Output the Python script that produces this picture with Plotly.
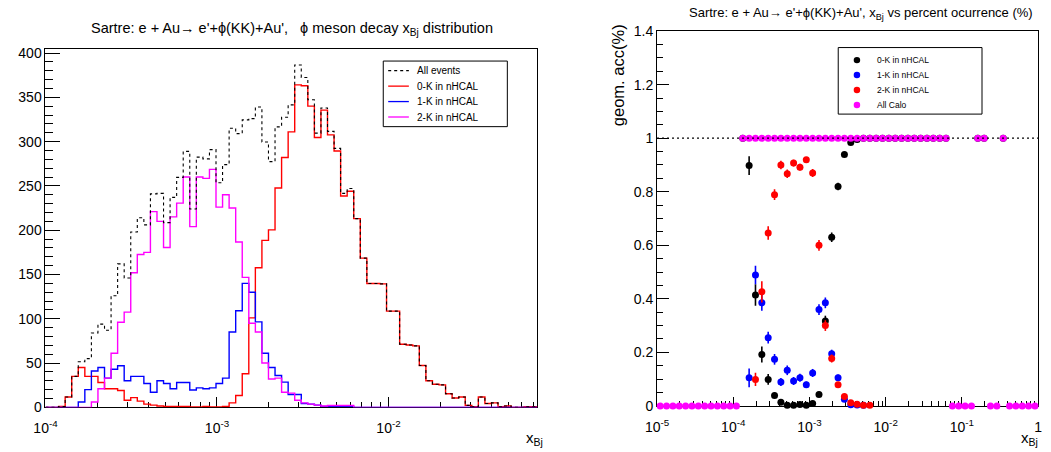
import numpy as np
import plotly.graph_objects as go

W, H = 1051, 452
FONT = "Liberation Sans, Arial, sans-serif"

# ---------------- Left panel: x_Bj distributions (75 log bins) ----------------
XMIN_L, XMAX_L, NB_L = 1e-4, 0.0738, 75

all_events = [0, 0, 1, 11.6, 35, 51.5, 55, 84, 94, 87,
              126, 162, 146, 198, 214, 206, 241, 241.5, 208.5, 237,
              259.6, 289, 224, 282.5, 280.5, 291, 253.5, 274, 315, 309,
              324.5, 326, 339, 299.5, 277.4, 316.6, 327.5, 341.5, 386.5, 372.4,
              347.2, 309.6, 338, 311.6, 292.4, 241.6, 247, 213, 168.5, 139.8,
              139.8, 139.4, 108.6, 108.6, 71.2, 70.4, 69.4, 47.2, 30, 26,
              25.4, 15.3, 10.5, 11.6, 2.2, 0.7, 11.6, 4.4, 5, 0.7,
              1.5, 0, 0, 0.7, 0.7]
k0_nhcal = [0, 0, 1, 11.6, 35, 45, 35, 35, 28, 21,
            21, 19, 8, 11, 7, 3.6, 2.5, 1.5, 1, 1,
            1, 1, 0.5, 0.5, 1, 0.5, 0.5, 1, 5, 13.4,
            38, 101, 157.6, 188.5, 200.4, 247.6, 282, 311, 364, 363,
            340, 304.6, 335.5, 307.6, 289.4, 238.6, 244, 213, 168.5, 139.8,
            139.8, 139.4, 108.6, 108.6, 71.2, 70.4, 69.4, 47.2, 30, 26,
            25.4, 15.3, 10.5, 11.6, 2.2, 0.7, 11.6, 4.4, 5, 0.7,
            1.5, 0, 0, 0.7, 0.7]
k1_nhcal = [0, 0, 0, 0, 0, 6, 20, 41, 45, 33,
            43, 47, 30, 35, 35, 27, 17, 30, 27, 21,
            28, 28, 19.6, 22, 21, 22, 27, 33, 85, 109,
            140, 130, 96.5, 61, 45, 36, 28.5, 14.5, 14.5, 4.4,
            3.6, 2.5, 1, 1, 1, 1, 1, 0, 0, 0,
            0, 0, 0, 0, 0, 0, 0, 0, 0, 0,
            0, 0, 0, 0, 0, 0, 0, 0, 0, 0,
            0, 0, 0, 0, 0]
k2_nhcal = [0, 0, 0, 0, 0, 0, 0, 6, 21, 33,
            61, 96, 107.5, 152, 172.5, 175, 221, 210, 180.5, 215,
            230.6, 260, 204, 260, 258.5, 268.7, 226, 240, 225, 186.6,
            146.7, 95, 85, 50, 32, 33, 17, 16, 8, 5,
            3.6, 2.5, 1.5, 2, 2, 2, 2, 0, 0, 0,
            0, 0, 0, 0, 0, 0, 0, 0, 0, 0,
            0, 0, 0, 0, 0, 0, 0, 0, 0, 0,
            0, 0, 0, 0, 0]
left_yticks = [0, 50, 100, 150, 200, 250, 300, 350, 400]
left_xticks = [1e-4, 1e-3, 1e-2]
left_xtext = ["10<sup>-4</sup>", "10<sup>-3</sup>", "10<sup>-2</sup>"]

# ---------------- Right panel: acceptance vs x_Bj (60 log bins) ----------------
XMIN_R, XMAX_R, NB_R = 1e-5, 1.0, 60

acc0_bins = [13, 14, 15, 16, 17, 18, 19, 20, 21, 22, 23, 24, 25, 26, 27, 28, 29, 30, 31, 32,
             33, 34, 35, 36, 37, 38, 39, 40, 41, 42, 43, 44, 45, 50, 51, 54]
acc0_vals = [1, 0.898, 0.414, 0.192, 0.099, 0.039, 0.014, 0.002, 0.002, 0.005, 0.002, 0.009,
             0.043, 0.317, 0.63, 0.82, 0.939, 0.984, 0.995, 0.9995,
             1, 1, 1, 1, 1, 1, 1, 1, 1, 1, 1, 1, 1, 1, 1, 1]
acc0_errs = [0, 0.035, 0.04, 0.03, 0.02, 0.01, 0.006, 0.003, 0.003, 0.004, 0.003, 0.005,
             0.01, 0.02, 0.018, 0.014, 0.008, 0.004, 0.002, 0.001,
             0, 0, 0, 0, 0, 0, 0, 0, 0, 0, 0, 0, 0, 0, 0, 0]

acc1_bins = [14, 15, 16, 17, 18, 19, 20, 21, 22, 23, 24, 25, 26, 27, 28, 29, 30, 31, 32]
acc1_vals = [0.105, 0.489, 0.385, 0.255, 0.174, 0.089, 0.133, 0.093, 0.105, 0.079, 0.123,
             0.36, 0.385, 0.195, 0.105, 0.025, 0.004, 0.003, 0.002]
acc1_errs = [0.035, 0.035, 0.03, 0.022, 0.02, 0.015, 0.018, 0.015, 0.015, 0.012, 0.015,
             0.02, 0.02, 0.015, 0.012, 0.006, 0.003, 0.002, 0.002]

acc2_bins = [15, 16, 17, 18, 19, 20, 21, 22, 23, 24, 25, 26, 27, 28, 29, 30, 31, 32, 33]
acc2_vals = [0.099, 0.426, 0.646, 0.789, 0.9, 0.867, 0.907, 0.892, 0.92, 0.87,
             0.6, 0.3, 0.177, 0.079, 0.035, 0.012, 0.006, 0.002, 0.002]
acc2_errs = [0.025, 0.04, 0.025, 0.02, 0.016, 0.016, 0.013, 0.013, 0.01, 0.015,
             0.02, 0.02, 0.015, 0.01, 0.006, 0.003, 0.002, 0.001, 0.001]

accall_vals = [0] * 13 + [1] * 33 + [0, 0, 0, 0, 1, 1, 0, 0, 1, 0, 0, 0, 0, 0]

right_yticks = [0, 0.2, 0.4, 0.6, 0.8, 1.0, 1.2, 1.4]
right_ytext = ["0", "0.2", "0.4", "0.6", "0.8", "1", "1.2", "1.4"]
right_xticks = [1e-5, 1e-4, 1e-3, 1e-2, 1e-1, 1]
right_xtext = ["10<sup>-5</sup>", "10<sup>-4</sup>", "10<sup>-3</sup>",
               "10<sup>-2</sup>", "10<sup>-1</sup>", "1"]

RED, BLUE, MAG, BLK = "#ff0000", "#0000ff", "#ff00ff", "#000000"

# ---------------- derived binning ----------------
edges_l = np.logspace(np.log10(XMIN_L), np.log10(XMAX_L), NB_L + 1)
edges_r = np.logspace(np.log10(XMIN_R), np.log10(XMAX_R), NB_R + 1)
cent_r = np.sqrt(edges_r[:-1] * edges_r[1:])


def px(x):
    return x / W


def py(y):
    return 1 - y / H


fig = go.Figure()


def hist(vals, color, dash=None, width=1.4):
    fig.add_trace(go.Scatter(
        x=edges_l, y=list(vals) + [vals[-1]], mode="lines", line_shape="hv",
        line=dict(color=color, width=width, dash=dash), xaxis="x", yaxis="y",
        showlegend=False, hoverinfo="skip"))


hist(k0_nhcal, RED)
hist(k1_nhcal, BLUE)
hist(k2_nhcal, MAG)
hist(all_events, BLK, dash="3px,3px", width=1.1)


def points(bins, vals, errs, color):
    fig.add_trace(go.Scatter(
        x=cent_r[bins], y=vals, mode="markers",
        marker=dict(color=color, size=7, symbol="circle", line=dict(width=0)),
        error_y=dict(type="data", array=errs, width=0, thickness=1.6, color=color),
        xaxis="x2", yaxis="y2", showlegend=False, cliponaxis=False, hoverinfo="skip"))


points(acc0_bins, acc0_vals, acc0_errs, BLK)
points(acc1_bins, acc1_vals, acc1_errs, BLUE)
points(acc2_bins, acc2_vals, acc2_errs, RED)
fig.add_trace(go.Scatter(
    x=cent_r, y=accall_vals, mode="markers",
    marker=dict(color=MAG, size=7, line=dict(width=0)),
    xaxis="x2", yaxis="y2", showlegend=False, cliponaxis=False, hoverinfo="skip"))

# minor tick positions on log axes
minor_l = [m * 10.0 ** e for e in range(-4, -1) for m in range(2, 10)]
minor_r = [m * 10.0 ** e for e in range(-5, 0) for m in range(2, 10)]

axis_common = dict(showgrid=False, zeroline=False, showline=True, linecolor="black",
                   linewidth=1, mirror=True, ticks="inside", tickcolor="black",
                   tickfont=dict(family=FONT, size=14, color="black"), layer="below traces")

fig.update_layout(
    width=W, height=H, margin=dict(l=0, r=0, t=0, b=0),
    paper_bgcolor="white", plot_bgcolor="white", showlegend=False,
    font=dict(family=FONT, color="black"),
    xaxis=dict(axis_common, type="log", domain=[px(34), px(533.5)],
               range=[np.log10(XMIN_L), np.log10(XMAX_L)], anchor="y",
               tickmode="array", tickvals=left_xticks, ticktext=left_xtext, ticklen=10,
               ticklabelstandoff=8,
               minor=dict(tickmode="array", tickvals=minor_l, ticklen=5, ticks="inside",
                          tickcolor="black", showgrid=False)),
    yaxis=dict(axis_common, domain=[py(414), py(42)], range=[0, 405.1], anchor="x",
               tickmode="array", tickvals=left_yticks, ticklen=15,
               minor=dict(dtick=10, tick0=0, ticklen=8, ticks="inside",
                          tickcolor="black", showgrid=False)),
    xaxis2=dict(axis_common, type="log", domain=[px(655), px(1042)],
                range=[np.log10(XMIN_R), np.log10(XMAX_R)], anchor="y2",
                tickmode="array", tickvals=right_xticks, ticktext=right_xtext, ticklen=9,
                ticklabelstandoff=8,
                minor=dict(tickmode="array", tickvals=minor_r, ticklen=5, ticks="inside",
                           tickcolor="black", showgrid=False)),
    yaxis2=dict(axis_common, domain=[py(412.5), py(24)], range=[0, 1.4], anchor="x2",
                tickmode="array", tickvals=right_yticks, ticktext=right_ytext, ticklen=12,
                minor=dict(dtick=0.05, tick0=0, ticklen=6, ticks="inside",
                           tickcolor="black", showgrid=False)),
)

shapes = []
annotations = []

# dotted reference line at 100 %
shapes.append(dict(type="line", xref="x2 domain", yref="y2", x0=0, x1=1, y0=1, y1=1,
                   line=dict(color="black", width=1.2, dash="2px,3px")))

# titles
annotations.append(dict(xref="paper", yref="paper", x=px(284), y=py(22), showarrow=False,
                        text="Sartre: e + Au\u2192 e'+\u03d5(KK)+Au',\u00a0\u00a0\u00a0\u03d5 meson decay x<sub>Bj</sub> distribution",
                        font=dict(family=FONT, size=14.5), xanchor="center", yanchor="middle"))
annotations.append(dict(xref="paper", yref="paper", x=px(862), y=py(5.5), showarrow=False,
                        text="Sartre: e + Au\u2192 e'+\u03d5(KK)+Au', x<sub>Bj</sub> vs percent ocurrence (%)",
                        font=dict(family=FONT, size=13), xanchor="center", yanchor="middle"))
# axis titles
annotations.append(dict(xref="paper", yref="paper", x=px(541), y=py(446), showarrow=False,
                        text="x<sub>Bj</sub>", font=dict(family=FONT, size=15),
                        xanchor="right", yanchor="middle"))
annotations.append(dict(xref="paper", yref="paper", x=px(1044), y=py(446), showarrow=False,
                        text="x<sub>Bj</sub>", font=dict(family=FONT, size=15),
                        xanchor="right", yanchor="middle"))
annotations.append(dict(xref="paper", yref="paper", x=px(615), y=py(70), showarrow=False,
                        text="geom. acc(%)", textangle=-90, font=dict(family=FONT, size=16.5),
                        xanchor="center", yanchor="middle"))

# left legend
shapes.append(dict(type="rect", xref="paper", yref="paper", x0=px(377), x1=px(503),
                   y0=py(123), y1=py(55), line=dict(color="black", width=1),
                   fillcolor="white", layer="above"))
leg_l = [("All events", BLK, "3px,3px", 65), ("0-K in nHCAL", RED, None, 81),
         ("1-K in nHCAL", BLUE, None, 97), ("2-K in nHCAL", MAG, None, 113)]
for txt, col, dash, yy in leg_l:
    shapes.append(dict(type="line", xref="paper", yref="paper", x0=px(382), x1=px(403),
                       y0=py(yy), y1=py(yy), line=dict(color=col, width=1.3, dash=dash),
                       layer="above"))
    annotations.append(dict(xref="paper", yref="paper", x=px(409), y=py(yy), showarrow=False,
                            text=txt, font=dict(family=FONT, size=10),
                            xanchor="left", yanchor="middle"))

# right legend
shapes.append(dict(type="rect", xref="paper", yref="paper", x0=px(839), x1=px(985),
                   y0=py(110), y1=py(41), line=dict(color="black", width=1),
                   fillcolor="white", layer="above"))
leg_r = [("0-K in nHCAL", BLK, 54), ("1-K in nHCAL", BLUE, 69.5),
         ("2-K in nHCAL", RED, 85), ("All Calo", MAG, 100.5)]
for txt, col, yy in leg_r:
    r = 3.3
    shapes.append(dict(type="circle", xref="paper", yref="paper",
                       x0=px(858 - r), x1=px(858 + r), y0=py(yy + r), y1=py(yy - r),
                       fillcolor=col, line=dict(width=0), layer="above"))
    annotations.append(dict(xref="paper", yref="paper", x=px(876), y=py(yy), showarrow=False,
                            text=txt, font=dict(family=FONT, size=8.5),
                            xanchor="left", yanchor="middle"))

fig.update_layout(shapes=shapes, annotations=annotations)
fig.write_html("out.html")
